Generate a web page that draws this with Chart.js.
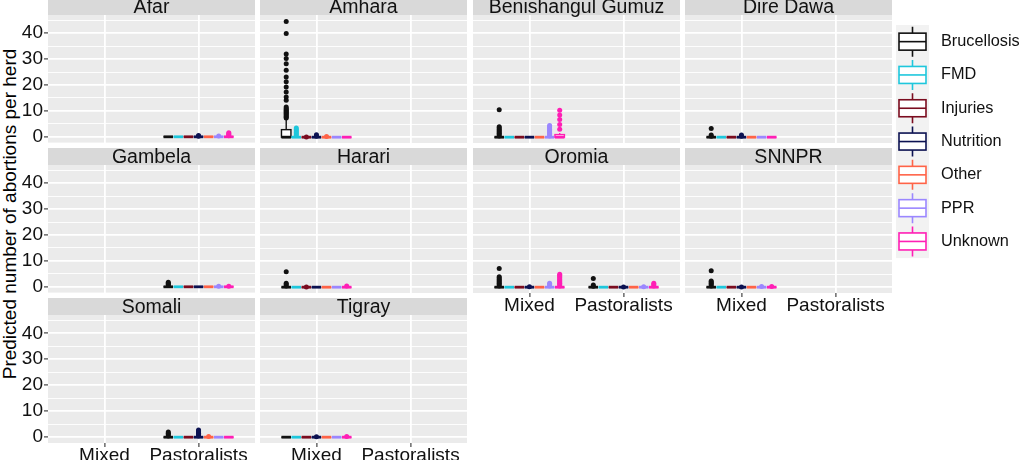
<!DOCTYPE html>
<html>
<head>
<meta charset="utf-8">
<title>Predicted number of abortions per herd</title>
<script src="https://cdn.jsdelivr.net/npm/chart.js@4.4.1/dist/chart.umd.min.js"></script>
<style>
  html, body { margin: 0; padding: 0; background: #fff; }
  #wrap { position: relative; width: 1021px; height: 460px; overflow: hidden; font-family: "Liberation Sans", Arial, sans-serif; }
  #wrap canvas { position: absolute; }
  #ytitle { position: absolute; left: 10px; top: 214px; transform: translate(-50%, -50%) rotate(-90deg);
            white-space: nowrap; font-size: 19px; color: #000; }
</style>
</head>
<body>
<div id="wrap">
  <div id="ytitle">Predicted number of abortions per herd</div>
</div>
<script>
const regions = ['Afar', 'Amhara', 'Benishangul Gumuz', 'Dire Dawa', 'Gambela', 'Harari', 'Oromia', 'SNNPR', 'Somali', 'Tigray'];
const systems = ['Mixed', 'Pastoralists'];
const causes = ['Brucellosis', 'FMD', 'Injuries', 'Nutrition', 'Other', 'PPR', 'Unknown'];
const causeColors = ['#111111', '#1ec7dc', '#7b0c1f', '#0c1252', '#ff6347', '#9b87ff', '#ff1fb5'];
const yTicks = [0, 10, 20, 30, 40];
const yMinorTicks = [5, 15, 25, 35, 45];
const yLimits = [-2.24, 47.04];
const xLimits = [0.4, 2.6];

// box per cause: [median, upper hinge, upper whisker]; lower hinge and lower whisker are 0
// outliers per cause: list of values above the whisker
const afarPastBox = [[0, 0, 0], [0, 0, 0], [0, 0, 0], [0, 0, 0], [0, 0, 0], [0, 0, 0], [0, 0, 0]];
const afarPastOut = [[], [], [], [0.2, 0.5], [], [0.3], [0.4, 0.8, 1.2, 1.6]];

const amharaMixedBox = [[0, 2.9, 7.0], [0, 0, 0], [0, 0, 0], [0, 0, 0], [0, 0, 0], [0, 0, 0], [0, 0, 0]];
const amharaMixedOut = [
  [7.4, 7.8, 8.2, 8.6, 9.0, 9.4, 9.8, 10.2, 10.6, 11.0, 11.6, 14.2, 15.5, 17.4, 19.3, 21.3, 23.2, 25.8, 28.3, 30.3, 32.0, 39.9, 44.5],
  [0.6, 1.2, 1.8, 2.4, 3.0, 3.5], [0.1], [0.4, 0.9], [0.3], [], []
];

const benishangulMixedBox = [[0, 0, 0], [0, 0, 0], [0, 0, 0], [0, 0, 0], [0, 0, 0], [0, 0, 0], [0, 1.0, 1.6]];
const benishangulMixedOut = [
  [0.5, 1.0, 1.5, 2.0, 2.5, 3.0, 3.5, 4.0, 10.6], [], [], [], [],
  [0.5, 1.0, 1.5, 2.0, 2.5, 3.0, 3.5, 4.0, 4.5], [3.1, 4.9, 6.8, 8.5, 10.4]
];

const direDawaMixedBox = [[0, 0, 0], [0, 0, 0], [0, 0, 0], [0, 0, 0], [0, 0, 0], [0, 0, 0], [0, 0, 0]];
const direDawaMixedOut = [[0.4, 0.8, 3.3], [], [], [0.4, 0.8], [], [], []];

const gambelaPastBox = [[0, 0, 0], [0, 0, 0], [0, 0, 0], [0, 0, 0], [0, 0, 0], [0, 0, 0], [0, 0, 0]];
const gambelaPastOut = [[0.5, 1.0, 1.4, 1.8], [], [], [], [], [0.2], [0.2]];

const harariMixedBox = [[0, 0, 0], [0, 0, 0], [0, 0, 0], [0, 0, 0], [0, 0, 0], [0, 0, 0], [0, 0, 0]];
const harariMixedOut = [[0.5, 1.0, 1.5, 5.9], [], [0.1], [], [], [], [0.5]];

const oromiaMixedBox = [[0, 0, 0], [0, 0, 0], [0, 0, 0], [0, 0, 0], [0, 0, 0], [0, 0, 0], [0, 0, 0]];
const oromiaMixedOut = [
  [0.5, 1.0, 1.5, 2.0, 2.5, 3.0, 3.5, 4.0, 7.2], [], [], [0.2], [],
  [0.5, 1.0, 1.5], [0.5, 1.0, 1.5, 2.0, 2.5, 3.0, 3.5, 4.0, 4.5, 5.0]
];
const oromiaPastBox = [[0, 0, 0], [0, 0, 0], [0, 0, 0], [0, 0, 0], [0, 0, 0], [0, 0, 0], [0, 0, 0]];
const oromiaPastOut = [[0.4, 0.8, 3.3], [], [], [0.1], [], [0.2], [0.5, 1.0, 1.5]];

const snnprMixedBox = [[0, 0, 0], [0, 0, 0], [0, 0, 0], [0, 0, 0], [0, 0, 0], [0, 0, 0], [0, 0, 0]];
const snnprMixedOut = [[0.5, 1.0, 1.5, 2.0, 2.4, 6.3], [], [], [0.1], [], [0.3], [0.3]];

const somaliPastBox = [[0, 0, 0], [0, 0, 0], [0, 0, 0], [0, 0, 0], [0, 0, 0], [0, 0, 0], [0, 0, 0]];
const somaliPastOut = [[0.5, 1.0, 1.5, 2.0], [], [], [0.5, 1.0, 1.5, 2.0, 2.4, 2.8], [0.3], [], []];

const tigrayMixedBox = [[0, 0, 0], [0, 0, 0], [0, 0, 0], [0, 0, 0], [0, 0, 0], [0, 0, 0], [0, 0, 0]];
const tigrayMixedOut = [[], [], [], [0.2], [], [], [0.3]];

const panelGroups = [
  ['Afar', 'Pastoralists', afarPastBox, afarPastOut],
  ['Amhara', 'Mixed', amharaMixedBox, amharaMixedOut],
  ['Benishangul Gumuz', 'Mixed', benishangulMixedBox, benishangulMixedOut],
  ['Dire Dawa', 'Mixed', direDawaMixedBox, direDawaMixedOut],
  ['Gambela', 'Pastoralists', gambelaPastBox, gambelaPastOut],
  ['Harari', 'Mixed', harariMixedBox, harariMixedOut],
  ['Oromia', 'Mixed', oromiaMixedBox, oromiaMixedOut],
  ['Oromia', 'Pastoralists', oromiaPastBox, oromiaPastOut],
  ['SNNPR', 'Mixed', snnprMixedBox, snnprMixedOut],
  ['Somali', 'Pastoralists', somaliPastBox, somaliPastOut],
  ['Tigray', 'Mixed', tigrayMixedBox, tigrayMixedOut]
];

// layout (px)
const COL_X = [48, 260, 473, 685];
const ROW_Y = [15, 165, 315];
const PANEL_W = 207, PANEL_H = 128, STRIP_H = 17;
const FONT = '"Liberation Sans", Arial, sans-serif';
const slot = 0.75 / causes.length;

Chart.defaults.font.family = FONT;
Chart.defaults.color = '#111';

function panelPlugin(title, groups) {
  return {
    id: 'panel',
    beforeDraw(chart) {
      const { ctx, chartArea: a } = chart;
      ctx.save();
      ctx.fillStyle = '#EBEBEB';
      ctx.fillRect(a.left, a.top, a.width, a.height);
      ctx.fillStyle = '#D9D9D9';
      ctx.fillRect(a.left, a.top - STRIP_H, a.width, STRIP_H);
      ctx.fillStyle = '#111';
      ctx.font = '19.5px ' + FONT;
      ctx.textAlign = 'center';
      ctx.textBaseline = 'middle';
      ctx.fillText(title, (a.left + a.right) / 2, a.top - STRIP_H / 2 + 1);
      ctx.restore();
    },
    afterDatasetsDraw(chart) {
      const { ctx } = chart;
      const xs = chart.scales.x, ys = chart.scales.y;
      const half = xs.getPixelForValue(1 + slot * 0.47) - xs.getPixelForValue(1);
      const y0 = ys.getPixelForValue(0);
      ctx.save();
      groups.forEach(g => {
        const xc = systems.indexOf(g[1]) + 1;
        g[2].forEach((s, i) => {
          const cx = xs.getPixelForValue(xc + (i - 3) * slot);
          const yMed = ys.getPixelForValue(s[0]);
          const yHinge = ys.getPixelForValue(s[1]);
          const yWhisk = ys.getPixelForValue(s[2]);
          ctx.strokeStyle = causeColors[i];
          ctx.lineWidth = 1.4;
          if (s[2] > s[1]) {
            ctx.beginPath();
            ctx.moveTo(cx, yHinge);
            ctx.lineTo(cx, yWhisk);
            ctx.stroke();
          }
          if (s[1] > 0) {
            ctx.fillStyle = '#fff';
            ctx.fillRect(cx - half, yHinge, half * 2, y0 - yHinge);
          }
          ctx.strokeRect(cx - half, yHinge, half * 2, y0 - yHinge);
          ctx.lineWidth = 2.8;
          ctx.beginPath();
          ctx.moveTo(cx - half, yMed);
          ctx.lineTo(cx + half, yMed);
          ctx.stroke();
        });
      });
      ctx.restore();
    }
  };
}

const wrap = document.getElementById('wrap');

regions.forEach((region, k) => {
  const col = k % 4, row = Math.floor(k / 4);
  const hasX = k + 4 >= regions.length;
  const hasY = col === 0;
  const axisW = hasY ? 48 : 0;
  const axisH = hasX ? 34 : 0;
  const padL = hasY ? 0 : 12, padR = 12, padT = STRIP_H + 8, padB = hasX ? 0 : 12;

  const canvas = document.createElement('canvas');
  canvas.width = padL + axisW + PANEL_W + padR;
  canvas.height = padT + PANEL_H + axisH + padB;
  canvas.style.left = (COL_X[col] - axisW - padL) + 'px';
  canvas.style.top = (ROW_Y[row] - padT) + 'px';
  wrap.appendChild(canvas);

  const groups = panelGroups.filter(g => g[0] === region);
  const datasets = causes.map((cause, i) => ({
    label: cause,
    data: groups.flatMap(g => g[3][i].map(v => ({ x: systems.indexOf(g[1]) + 1 + (i - 3) * slot, y: v }))),
    backgroundColor: causeColors[i],
    borderWidth: 0,
    pointRadius: 2.5
  }));

  new Chart(canvas, {
    type: 'scatter',
    data: { datasets },
    plugins: [panelPlugin(region, groups)],
    options: {
      responsive: false,
      devicePixelRatio: 1,
      animation: false,
      events: [],
      layout: { padding: { left: padL, right: padR, top: padT, bottom: padB } },
      plugins: { legend: { display: false }, tooltip: { enabled: false } },
      scales: {
        x: {
          type: 'linear',
          min: xLimits[0],
          max: xLimits[1],
          afterBuildTicks: s => { s.ticks = systems.map((_, i) => ({ value: i + 1 })); },
          afterFit: s => { s.height = axisH; },
          border: { display: false },
          grid: { color: '#fff', lineWidth: 1.8, drawTicks: hasX, tickLength: 4, tickColor: '#333', tickWidth: 1.1 },
          ticks: {
            display: hasX,
            autoSkip: false,
            maxRotation: 0,
            padding: -3,
            color: '#111',
            font: { size: 19 },
            callback: v => systems[v - 1]
          }
        },
        y: {
          type: 'linear',
          min: yLimits[0],
          max: yLimits[1],
          afterBuildTicks: s => {
            s.ticks = yTicks.concat(yMinorTicks).sort((a, b) => a - b).map(v => ({ value: v }));
          },
          afterFit: s => { s.width = axisW; },
          border: { display: false },
          grid: {
            color: '#fff',
            lineWidth: c => (yTicks.includes(c.tick.value) ? 1.8 : 0.9),
            drawTicks: hasY,
            tickLength: 4,
            tickWidth: 1.1,
            tickColor: c => (yTicks.includes(c.tick.value) ? '#333' : 'rgba(0,0,0,0)')
          },
          ticks: {
            display: hasY,
            autoSkip: false,
            padding: 1,
            color: '#111',
            font: { size: 19 },
            callback: v => (yTicks.includes(v) ? String(v) : '')
          }
        }
      }
    }
  });
});

// legend
const legendCanvas = document.createElement('canvas');
legendCanvas.width = 131;
legendCanvas.height = 245;
legendCanvas.style.left = '890px';
legendCanvas.style.top = '20px';
wrap.appendChild(legendCanvas);

const legendKeys = {
  id: 'legendKeys',
  afterDraw(chart) {
    const ctx = chart.ctx;
    const x0 = 6, y0 = 5, keyW = 33, keyH = 33.3;
    const list = chart.data.datasets;
    ctx.save();
    ctx.fillStyle = '#F2F2F2';
    ctx.fillRect(x0, y0, keyW, keyH * list.length);
    list.forEach((ds, i) => {
      const cx = x0 + keyW / 2, cy = y0 + keyH * (i + 0.5);
      ctx.strokeStyle = ds.borderColor;
      ctx.lineWidth = 1.6;
      ctx.beginPath();
      ctx.moveTo(cx, cy - 15);
      ctx.lineTo(cx, cy - 8.5);
      ctx.moveTo(cx, cy + 8.5);
      ctx.lineTo(cx, cy + 15);
      ctx.stroke();
      ctx.fillStyle = '#fff';
      ctx.fillRect(cx - 13.5, cy - 8.5, 27, 17);
      ctx.strokeRect(cx - 13.5, cy - 8.5, 27, 17);
      ctx.beginPath();
      ctx.moveTo(cx - 13.5, cy);
      ctx.lineTo(cx + 13.5, cy);
      ctx.stroke();
      ctx.fillStyle = '#111';
      ctx.font = '16.3px ' + FONT;
      ctx.textAlign = 'left';
      ctx.textBaseline = 'middle';
      ctx.fillText(ds.label, x0 + keyW + 12, cy);
    });
    ctx.restore();
  }
};

new Chart(legendCanvas, {
  type: 'scatter',
  data: { datasets: causes.map((c, i) => ({ label: c, data: [], borderColor: causeColors[i] })) },
  plugins: [legendKeys],
  options: {
    responsive: false,
    devicePixelRatio: 1,
    animation: false,
    events: [],
    plugins: { legend: { display: false }, tooltip: { enabled: false } },
    scales: { x: { display: false }, y: { display: false } }
  }
});
</script>
</body>
</html>
